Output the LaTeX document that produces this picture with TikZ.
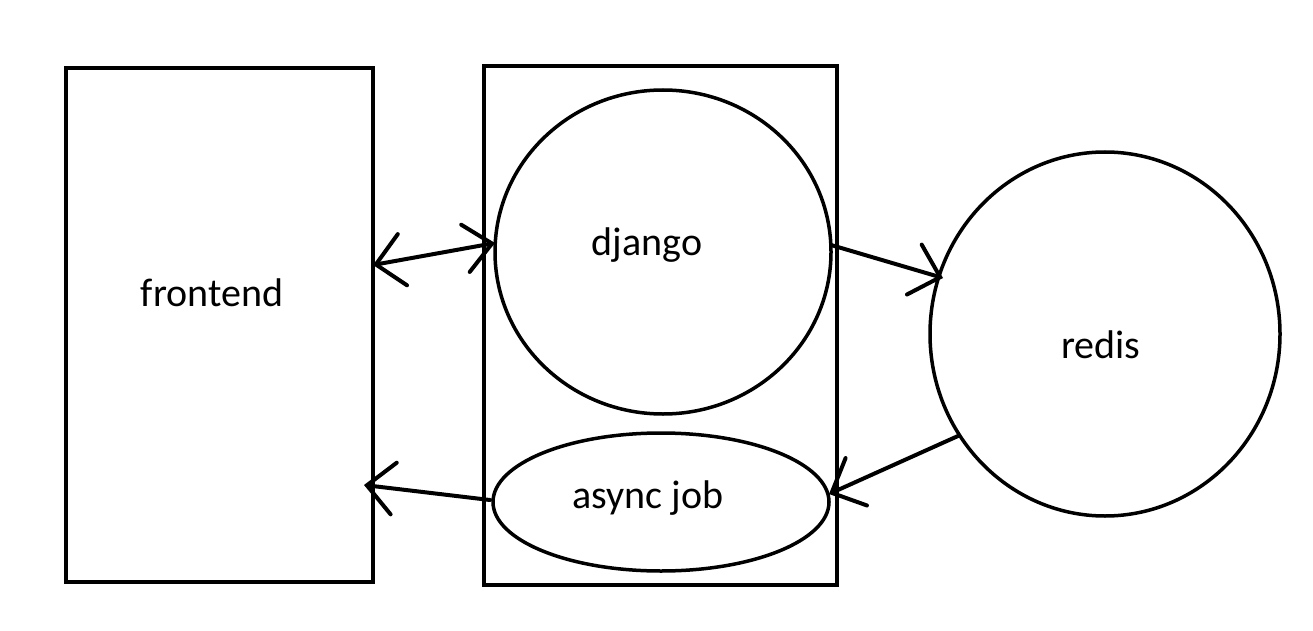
\documentclass[tikz,border=0pt]{standalone}
\usepackage{fontspec}
\setmainfont{Carlito}
\usetikzlibrary{arrows.meta}
\begin{document}
\begin{tikzpicture}[x=1pt,y=-1pt,
  box/.style={draw,line width=4pt},
  shp/.style={draw,line width=3.5pt},
  lbl/.style={font=\fontsize{40}{48}\selectfont},
  conn/.style={line width=4pt,line cap=round,-{Straight Barb[length=27pt,width=52pt,line cap=round]}},
  biconn/.style={line width=4pt,line cap=round,{Straight Barb[length=27pt,width=52pt,line cap=round]}-{Straight Barb[length=27pt,width=48pt,line cap=round]}}]
\useasboundingbox (0,0) rectangle (1313,631);
\draw[box] (66,68) rectangle (373,582);
\draw[box] (484,66) rectangle (837,585);
\node[lbl] (fe) at (212,293) {frontend};
\coordinate (feR) at (373,265);
\coordinate (feR2) at (364,485);
\draw[shp] (663,252) ellipse [x radius=168, y radius=162];
\node[lbl] (dj) at (647,245) {django};
\coordinate (djL) at (495,243);
\coordinate (djR) at (831,245);
\draw[shp] (661,502) ellipse [x radius=168, y radius=69];
\node[lbl] (aj) at (648,498) {async job};
\coordinate (ajL) at (490,500);
\coordinate (ajR) at (829,494);
\draw[shp] (1105,334) ellipse [x radius=175, y radius=182];
\node[lbl] (rd) at (1101,345) {redis};
\coordinate (rdL) at (943,278);
\coordinate (rdB) at (958,436);
\draw[biconn] (feR) -- (djL);
\draw[conn] (djR) -- (rdL);
\draw[conn] (rdB) -- (ajR);
\draw[conn] (ajL) -- (feR2);
\end{tikzpicture}
\end{document}
